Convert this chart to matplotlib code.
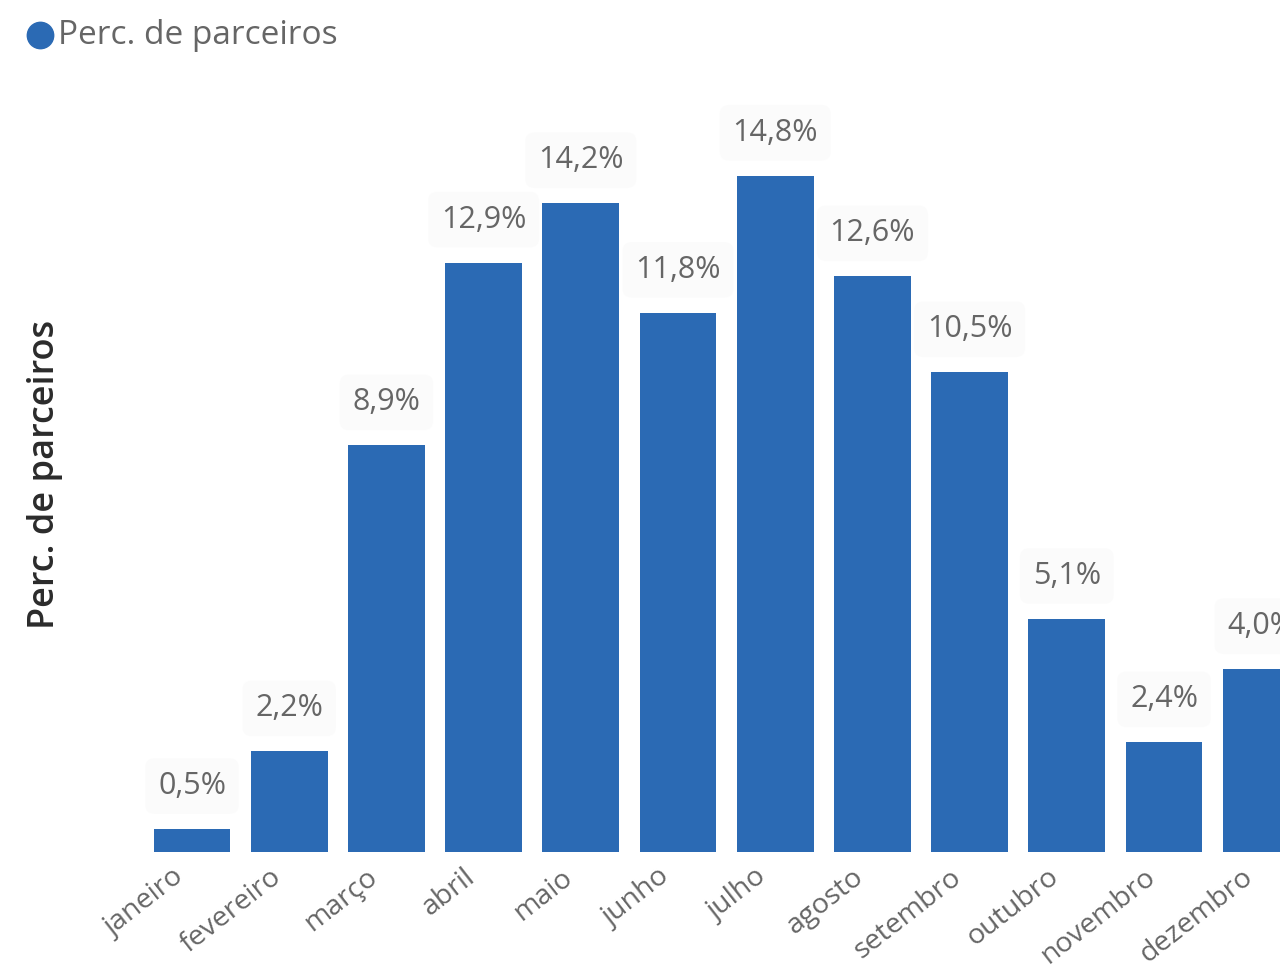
import matplotlib
matplotlib.use("Agg")
import matplotlib.pyplot as plt
from matplotlib.lines import Line2D
from matplotlib.transforms import ScaledTranslation

plt.rcParams['font.family'] = ['Open Sans', 'DejaVu Sans']

months = ["janeiro", "fevereiro", "março", "abril", "maio", "junho",
          "julho", "agosto", "setembro", "outubro", "novembro", "dezembro"]
perc_parceiros = [0.5, 2.2, 8.9, 12.9, 14.2, 11.8, 14.8, 12.6, 10.5, 5.1, 2.4, 4.0]
series_name = "Perc. de parceiros"

BAR = "#2B6AB4"
GREY = "#666666"

W, H = 1280, 966
fig = plt.figure(figsize=(W / 100, H / 100), dpi=100)
fig.patch.set_facecolor("white")

left_px, right_px, bottom_px, top_px = 140, 1280, 852, 100
ax = fig.add_axes([left_px / W, 1 - bottom_px / H,
                   (right_px - left_px) / W, (bottom_px - top_px) / H])

x = list(range(len(months)))
ax.bar(x, perc_parceiros, width=0.79, color=BAR, zorder=2)

ax.set_xlim(-0.535, 11.193)
ax.set_ylim(0, 16.46)

for xi, v in zip(x, perc_parceiros):
    ax.annotate(f"{v:.1f}%".replace(".", ","), xy=(xi, v), xytext=(0, 31),
                textcoords="offset points", ha="center", va="center",
                fontsize=22, color=GREY, zorder=3, annotation_clip=False,
                bbox=dict(boxstyle="round,pad=0.42,rounding_size=0.3",
                          facecolor="#fbfbfb", edgecolor="none", alpha=0.82))

ax.set_xticks(x)
ax.set_xticklabels(months, rotation=38, ha="right", rotation_mode="anchor",
                   fontsize=20.5, color=GREY)
ax.tick_params(axis="x", length=0, pad=8)
shift = ScaledTranslation(-20 / 100, 0, fig.dpi_scale_trans)
for lbl in ax.get_xticklabels():
    lbl.set_transform(lbl.get_transform() + shift)
ax.set_yticks([])
for s in ax.spines.values():
    s.set_visible(False)

ax.set_ylabel(series_name, fontsize=26, color="#2b2b2b", fontweight="semibold")
ax.yaxis.set_label_coords(-(140 - 45) / (right_px - left_px), (852 - 474) / (852 - 100))
ax.yaxis.label.set_va("center")

# legend
fig.add_artist(Line2D([40 / W], [1 - 35 / H], marker="o", markersize=19,
                      color=BAR, transform=fig.transFigure))
fig.text(58 / W, 1 - 36 / H, series_name, fontsize=24, color=GREY,
         ha="left", va="center")

fig.savefig("out.png", dpi=100)
